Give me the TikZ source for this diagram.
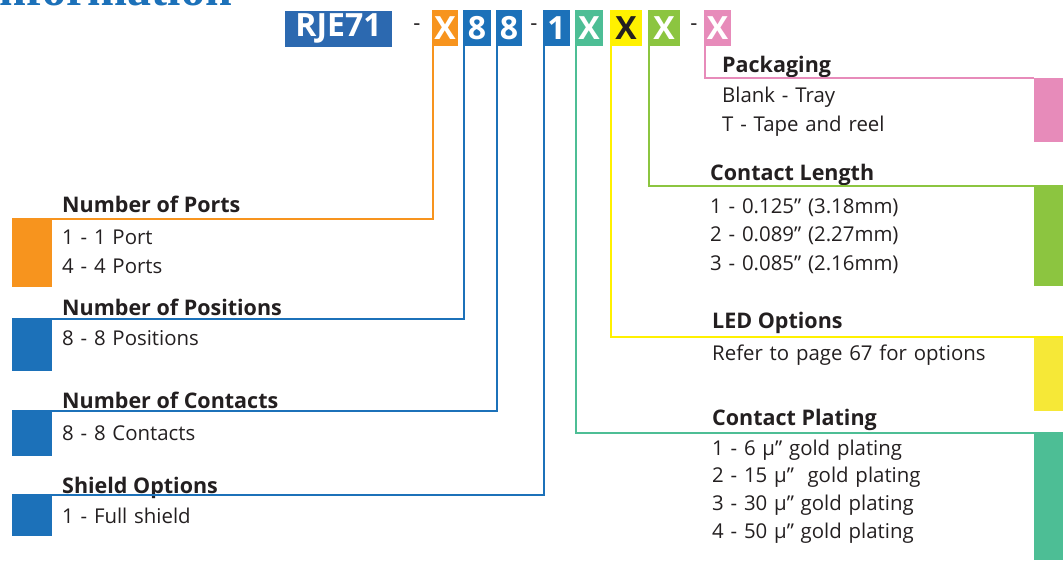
\documentclass[tikz,border=0pt]{standalone}
\usepackage{xcolor}
\usepackage{fontspec}
\setmainfont{Open Sans}
\newfontfamily\headfont{Liberation Serif}
\usetikzlibrary{positioning}
\definecolor{codeblue}{HTML}{1C71B9}
\definecolor{rjeblue}{HTML}{2C69B0}
\definecolor{portorange}{HTML}{F7941E}
\definecolor{plateteal}{HTML}{4DBE95}
\definecolor{ledyellow}{HTML}{FFF100}
\definecolor{ledblock}{HTML}{F6E837}
\definecolor{lengreen}{HTML}{8CC540}
\definecolor{packpink}{HTML}{E78BBA}
\definecolor{textgray}{HTML}{231F20}

\tikzset{
  codebox/.style={fill=#1, text=white, inner sep=0pt, minimum height=36pt,
    font=\fontsize{32}{32}\selectfont\bfseries},
  dashmark/.style={text=textgray, inner sep=0pt, font=\fontsize{22}{22}\selectfont},
  colbar/.style={fill=#1, draw=none, inner sep=0pt, anchor=north west},
  legline/.style={draw=#1, line width=2.2pt},
  heading/.style={anchor=base west, inner sep=0pt, text=textgray,
    font=\fontsize{21.5}{26}\selectfont\bfseries},
  items/.style={anchor=base west, inner sep=0pt, text=textgray, text width=330pt,
    font=\fontsize{20.4}{#1}\selectfont},
  items/.default=29.5
}

\begin{document}
\begin{tikzpicture}[x=1pt, y=-1pt]
  \useasboundingbox (0,0) rectangle (1063,560);

  \node[anchor=base east, inner sep=0pt, text=codeblue,
        font=\headfont\fontsize{48}{48}\selectfont\bfseries] (title) at (232,5) {Information};

  % part number
  \node[codebox=rjeblue, minimum width=107pt] (rje) at (338.5,28.5) {RJE71};
  \node[dashmark] (dasha) at (417,27) {-};
  \node[codebox=portorange, minimum width=26pt] (xport) at (445,28) {X};
  \node[codebox=codeblue, minimum width=28pt] (xpos) at (477,28) {8};
  \node[codebox=codeblue, minimum width=26pt] (xcont) at (509,28) {8};
  \node[dashmark] (dashb) at (534,27) {-};
  \node[codebox=codeblue, minimum width=27pt] (xshield) at (556.5,28) {1};
  \node[codebox=plateteal, minimum width=28pt] (xplate) at (589,28) {X};
  \node[codebox=ledyellow, minimum width=32pt, text=textgray] (xled) at (626,28) {X};
  \node[codebox=lengreen, minimum width=32pt] (xlen) at (664,28) {X};
  \node[dashmark] (dashc) at (694,27) {-};
  \node[codebox=packpink, minimum width=27pt] (xpack) at (717.5,28) {X};

  % colour bars
  \node[colbar=portorange, minimum width=40pt, minimum height=68pt] (portsbar) at (12,219) {};
  \node[colbar=codeblue, minimum width=40pt, minimum height=52pt] (posbar) at (12,319) {};
  \node[colbar=codeblue, minimum width=40pt, minimum height=45pt] (contbar) at (12,411) {};
  \node[colbar=codeblue, minimum width=40pt, minimum height=41pt] (shieldbar) at (12,495) {};
  \node[colbar=packpink, minimum width=29pt, minimum height=64pt] (packbar) at (1034,78) {};
  \node[colbar=lengreen, minimum width=29pt, minimum height=100pt] (lenbar) at (1034,186) {};
  \node[colbar=ledblock, minimum width=29pt, minimum height=74pt] (ledbar) at (1034,337) {};
  \node[colbar=plateteal, minimum width=29pt, minimum height=127pt] (platebar) at (1034,433) {};

  % left column
  \node[heading] (portshead) at (62,212) {Number of Ports};
  \node[items=29] (portsitems) at (62,244) {1 - 1 Port\\4 - 4 Ports};
  \node[heading] (poshead) at (62,315) {Number of Positions};
  \node[items] (positems) at (62,345) {8 - 8 Positions};
  \node[heading] (conthead) at (62,408) {Number of Contacts};
  \node[items] (contitems) at (62,440) {8 - 8 Contacts};
  \node[heading] (shieldhead) at (62,493) {Shield Options};
  \node[items] (shielditems) at (62,523) {1 - Full shield};

  % right column
  \node[heading] (packhead) at (722,72) {Packaging};
  \node[items=29] (packitems) at (722,102) {Blank - Tray\\T - Tape and reel};
  \node[heading] (lenhead) at (710,180) {Contact Length};
  \node[items=28.5] (lenitems) at (710,213)
    {1 - 0.125” (3.18mm)\\2 - 0.089” (2.27mm)\\3 - 0.085” (2.16mm)};
  \node[heading] (ledhead) at (712,328) {LED Options};
  \node[items] (leditems) at (712,360) {Refer to page 67 for options};
  \node[heading] (platehead) at (712,425) {Contact Plating};
  \node[items=27.7] (plateitems) at (712,455)
    {1 - 6 µ” gold plating\\2 - 15 µ”~ gold plating\\3 - 30 µ” gold plating\\4 - 50 µ” gold plating};

  % leaders
  \draw[legline=portorange] ([xshift=1.2pt]xport.south west) |- (portsbar.north west);
  \draw[legline=codeblue] ([xshift=1.2pt]xpos.south west) |- (posbar.north west);
  \draw[legline=codeblue] ([xshift=1.2pt]xcont.south west) |- (contbar.north west);
  \draw[legline=codeblue] ([xshift=1.2pt]xshield.south west) |- (shieldbar.north west);
  \draw[legline=plateteal] ([xshift=1.2pt]xplate.south west) |- (platebar.north east);
  \draw[legline=ledyellow] ([xshift=1.2pt]xled.south west) |- (ledbar.north east);
  \draw[legline=lengreen] ([xshift=1.2pt]xlen.south west) |- (lenbar.north east);
  \draw[legline=packpink] ([xshift=1.2pt]xpack.south west) |- (packbar.north west);
\end{tikzpicture}
\end{document}
